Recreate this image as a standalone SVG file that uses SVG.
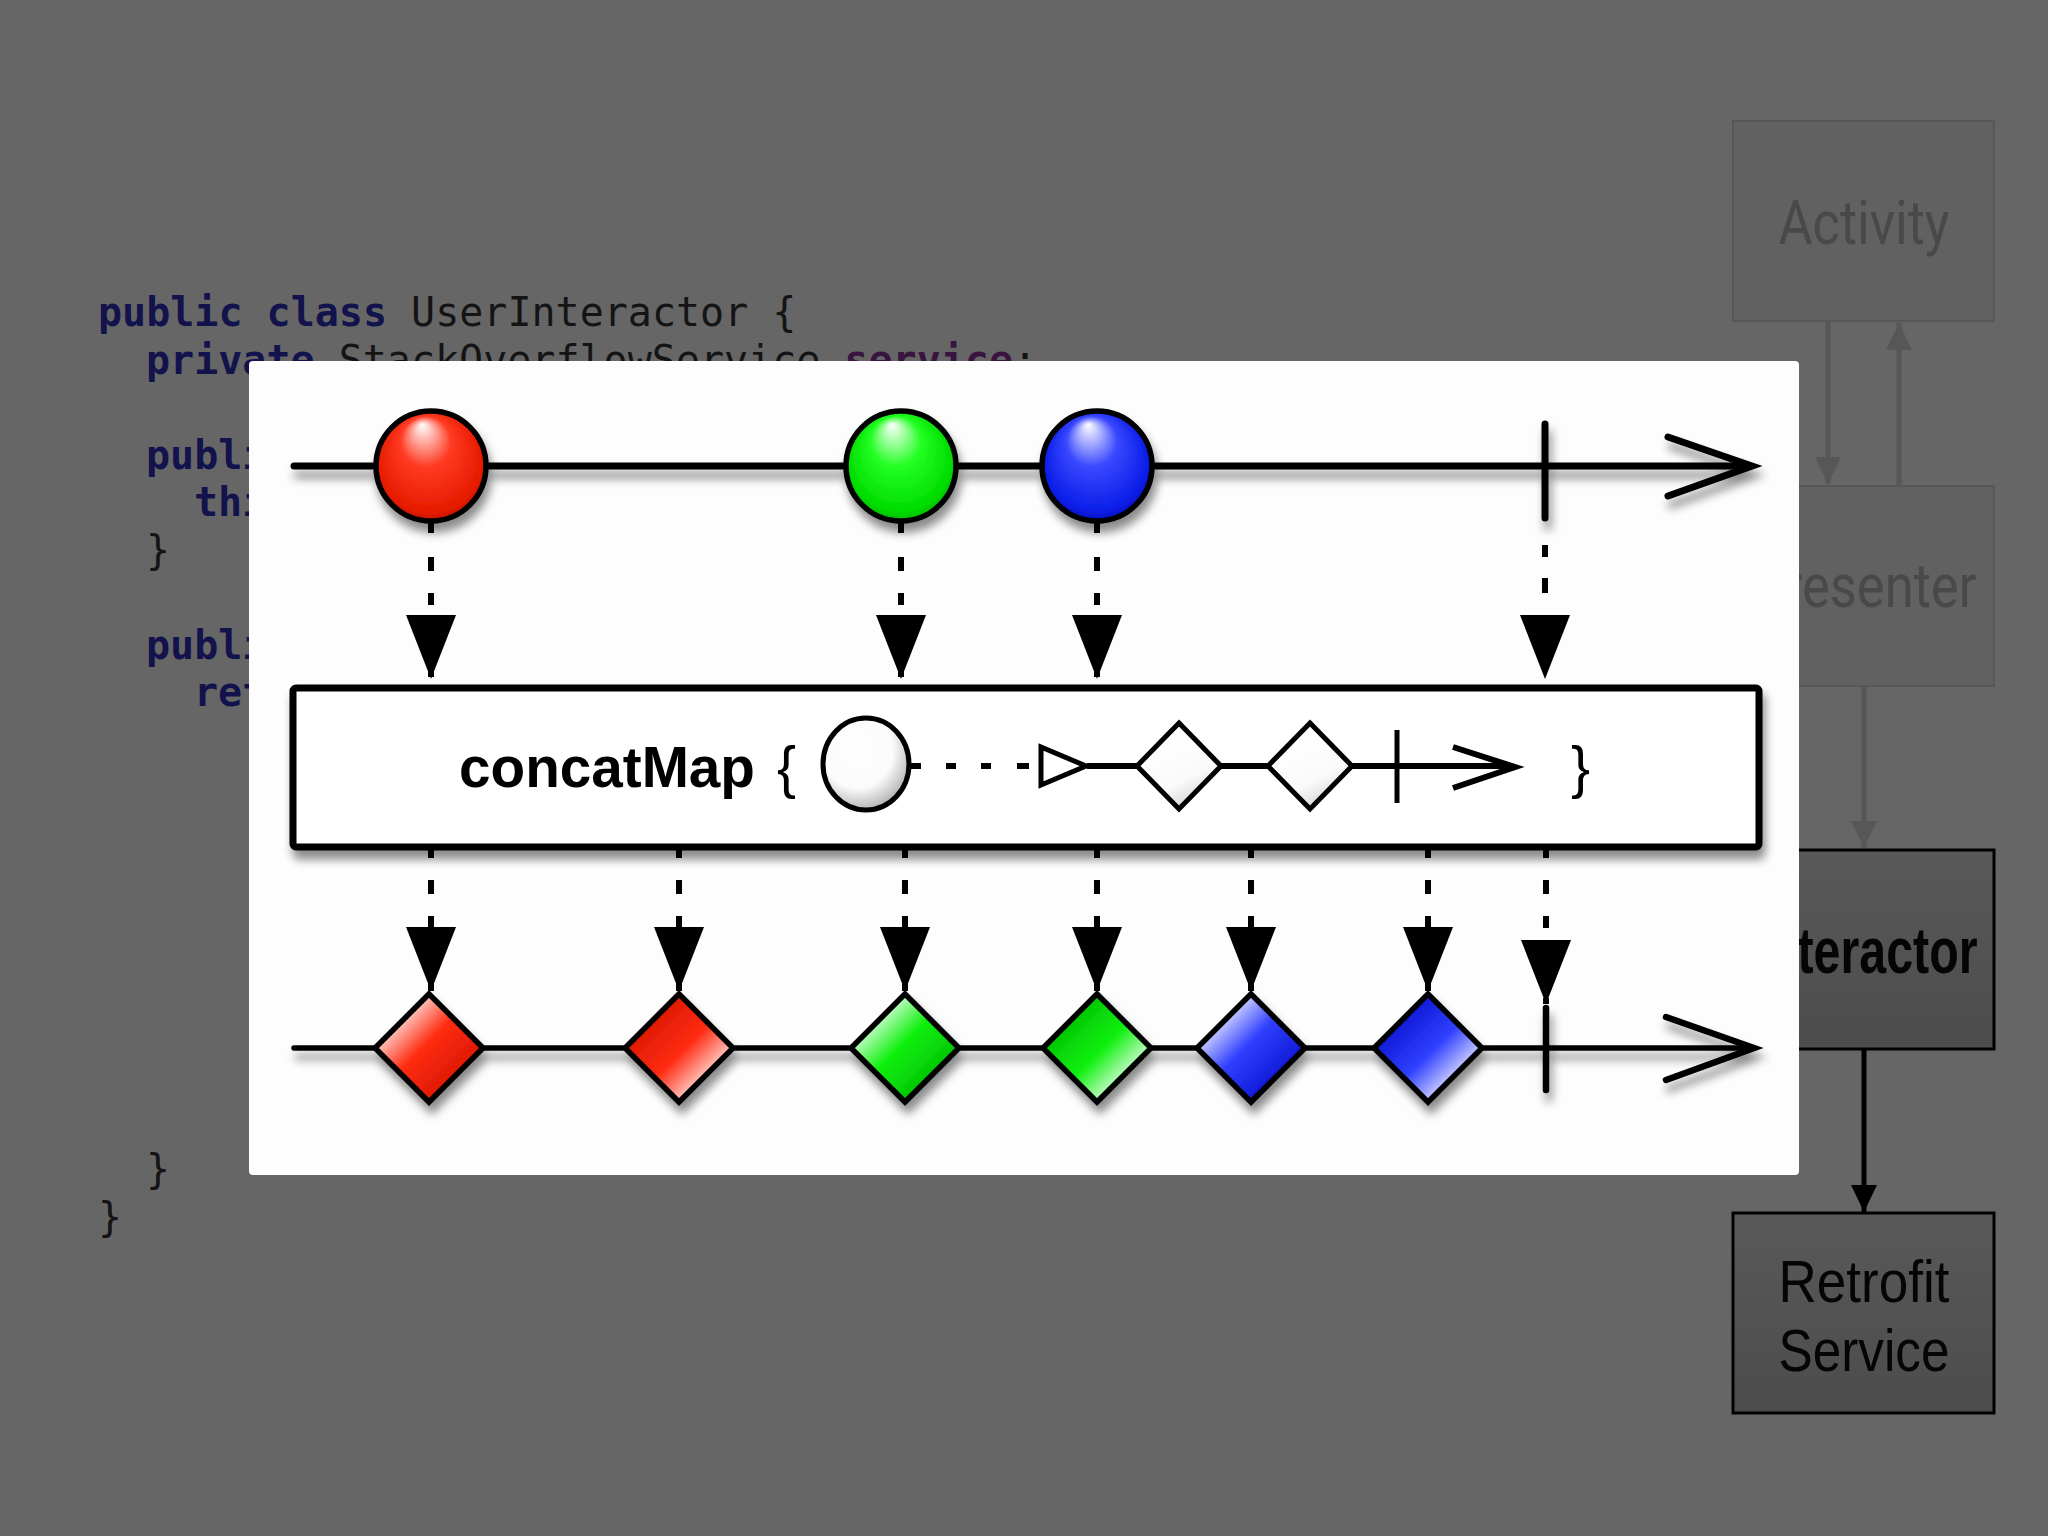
<svg xmlns="http://www.w3.org/2000/svg" width="2048" height="1536" viewBox="0 0 2048 1536">
<defs>
<style>
.code{font-family:"DejaVu Sans Mono","Liberation Mono",monospace;font-size:40px;fill:#141414}
.kw{font-weight:bold;fill:#12124c}
.fld{font-weight:bold;fill:#3a1440}
.boxdim{fill:#616161;stroke:#575757;stroke-width:2}
.dimtxt{font-family:Roboto,"Liberation Sans",sans-serif;font-size:62px;fill:#494949}
.dark{stroke:#000;stroke-width:3}
.darktxt{font-family:"Liberation Sans",Arial,sans-serif;fill:#050505}
.gconn{stroke:#575757;stroke-width:5;fill:none}
.bconn{stroke:#000;stroke-width:5;fill:none}
.tl{stroke:#000;fill:none;stroke-linecap:round}
.mk{stroke:#000;stroke-width:5.5}
.dash{stroke:#000;stroke-width:6;fill:none}
</style>
<marker id="aGray" markerUnits="userSpaceOnUse" orient="auto" overflow="visible" refX="0" refY="0" markerWidth="30" markerHeight="30">
<path d="M0,0 L-27,-13 L-27,13 Z" fill="#575757"/>
</marker>
<marker id="aBlack" markerUnits="userSpaceOnUse" orient="auto" overflow="visible" refX="0" refY="0" markerWidth="30" markerHeight="30">
<path d="M0,0 L-27,-13 L-27,13 Z" fill="#000"/>
</marker>
<marker id="aBig" markerUnits="userSpaceOnUse" orient="auto" overflow="visible" refX="0" refY="0" markerWidth="70" markerHeight="60">
<path d="M0,0 L-64,-25 L-64,25 Z" fill="#000"/>
</marker>
<filter id="sh" x="-10%" y="-20%" width="130%" height="160%">
<feDropShadow dx="3" dy="9" stdDeviation="5" flood-color="#000" flood-opacity="0.45"/>
</filter>
<radialGradient id="gRed" cx="0.5" cy="0.5" r="0.55" fx="0.42" fy="0.12">
<stop offset="0" stop-color="#ffffff"/><stop offset="0.42" stop-color="#ff3a22"/><stop offset="0.85" stop-color="#e81c00"/><stop offset="1" stop-color="#b81200"/>
</radialGradient>
<radialGradient id="gGreen" cx="0.5" cy="0.5" r="0.55" fx="0.42" fy="0.12">
<stop offset="0" stop-color="#ffffff"/><stop offset="0.42" stop-color="#22ff22"/><stop offset="0.85" stop-color="#00dd00"/><stop offset="1" stop-color="#00a800"/>
</radialGradient>
<radialGradient id="gBlue" cx="0.5" cy="0.5" r="0.55" fx="0.42" fy="0.12">
<stop offset="0" stop-color="#ffffff"/><stop offset="0.42" stop-color="#3a48ff"/><stop offset="0.85" stop-color="#0a1ee8"/><stop offset="1" stop-color="#0008a8"/>
</radialGradient>
<radialGradient id="gWhite" cx="0.4" cy="0.35" r="0.75">
<stop offset="0" stop-color="#ffffff"/><stop offset="0.55" stop-color="#fbfbfb"/><stop offset="1" stop-color="#9a9a9a"/>
</radialGradient>
<linearGradient id="dRedA" x1="0.2" y1="0.2" x2="0.8" y2="0.8"><stop offset="0" stop-color="#ffe6e2"/><stop offset="0.45" stop-color="#ff2c12"/><stop offset="1" stop-color="#d81600"/></linearGradient>
<linearGradient id="dRedB" x1="0.8" y1="0.8" x2="0.2" y2="0.2"><stop offset="0" stop-color="#ffe6e2"/><stop offset="0.45" stop-color="#ff2c12"/><stop offset="1" stop-color="#d81600"/></linearGradient>
<linearGradient id="dGreenA" x1="0.2" y1="0.2" x2="0.8" y2="0.8"><stop offset="0" stop-color="#e6ffe6"/><stop offset="0.45" stop-color="#10f010"/><stop offset="1" stop-color="#00c000"/></linearGradient>
<linearGradient id="dGreenB" x1="0.8" y1="0.8" x2="0.2" y2="0.2"><stop offset="0" stop-color="#e6ffe6"/><stop offset="0.45" stop-color="#10f010"/><stop offset="1" stop-color="#00c000"/></linearGradient>
<linearGradient id="dBlueA" x1="0.2" y1="0.2" x2="0.8" y2="0.8"><stop offset="0" stop-color="#e6e8ff"/><stop offset="0.45" stop-color="#3040ff"/><stop offset="1" stop-color="#0814d0"/></linearGradient>
<linearGradient id="dBlueB" x1="0.8" y1="0.8" x2="0.2" y2="0.2"><stop offset="0" stop-color="#e6e8ff"/><stop offset="0.45" stop-color="#3040ff"/><stop offset="1" stop-color="#0814d0"/></linearGradient>
<linearGradient id="dWhite" x1="0.3" y1="0.2" x2="0.7" y2="1"><stop offset="0" stop-color="#ffffff"/><stop offset="0.6" stop-color="#fafafa"/><stop offset="1" stop-color="#cfcfcf"/></linearGradient>
<linearGradient id="gBoxDark" x1="0" y1="0" x2="0" y2="1"><stop offset="0" stop-color="#595959"/><stop offset="1" stop-color="#4c4c4c"/></linearGradient>
</defs>

<rect x="0" y="0" width="2048" height="1536" fill="#666666"/>

<g id="code" class="code">
<text x="98" y="326"><tspan class="kw">public class</tspan> UserInteractor {</text>
<text x="146" y="373.5"><tspan class="kw">private</tspan> StackOverflowService <tspan class="fld">service</tspan>;</text>
<text x="146" y="468.5" class="kw">publi</text>
<text x="194" y="516" class="kw">thi</text>
<text x="146" y="563.5">}</text>
<text x="146" y="658.5" class="kw">publi</text>
<text x="194" y="706" class="kw">ret</text>
<text x="146" y="1183">}</text>
<text x="98" y="1231">}</text>
</g>

<g id="connectors">
<line class="gconn" x1="1828" y1="321" x2="1828" y2="484" marker-end="url(#aGray)"/>
<line class="gconn" x1="1899" y1="486" x2="1899" y2="323" marker-end="url(#aGray)"/>
<line class="gconn" x1="1864" y1="686" x2="1864" y2="848" marker-end="url(#aGray)"/>
<line class="bconn" x1="1864" y1="1049" x2="1864" y2="1212" marker-end="url(#aBlack)"/>
</g>

<g id="node-activity">
<rect class="boxdim" x="1733" y="121" width="261" height="200"/>
<text class="dimtxt" x="1864" y="244" text-anchor="middle" textLength="171" lengthAdjust="spacingAndGlyphs">Activity</text>
</g>
<g id="node-presenter">
<rect class="boxdim" x="1733" y="486" width="261" height="200"/>
<text class="dimtxt" x="1864" y="607" text-anchor="middle" textLength="225" lengthAdjust="spacingAndGlyphs">Presenter</text>
</g>
<g id="node-interactor">
<rect class="dark" x="1733" y="850" width="261" height="199" fill="url(#gBoxDark)"/>
<text class="darktxt" x="1866" y="973" font-size="64" font-weight="bold" text-anchor="middle" textLength="223" lengthAdjust="spacingAndGlyphs">Interactor</text>
</g>
<g id="node-retrofit">
<rect class="dark" x="1733" y="1213" width="261" height="200" fill="url(#gBoxDark)" stroke-width="2.5"/>
<text class="darktxt" x="1864" y="1302" font-size="60" text-anchor="middle" textLength="171" lengthAdjust="spacingAndGlyphs">Retrofit</text>
<text class="darktxt" x="1864" y="1371" font-size="60" text-anchor="middle" textLength="171" lengthAdjust="spacingAndGlyphs">Service</text>
</g>

<g id="marble-diagram">
<rect x="249" y="361" width="1550" height="814" rx="4" fill="#fdfdfd"/>

<g id="source-timeline" filter="url(#sh)">
<line class="tl" x1="294" y1="466" x2="1748" y2="466" stroke-width="7"/>
<polyline class="tl" points="1668,437 1752,466 1668,496" stroke-width="7" stroke-linejoin="miter"/>
<line class="tl" x1="1545" y1="424" x2="1545" y2="518" stroke-width="7"/>
<circle class="mk" cx="431" cy="466" r="55" fill="url(#gRed)"/>
<circle class="mk" cx="901" cy="466" r="55" fill="url(#gGreen)"/>
<circle class="mk" cx="1097" cy="466" r="55" fill="url(#gBlue)"/>
</g>

<g id="top-arrows">
<line class="dash" x1="431" y1="521" x2="431" y2="679" stroke-dasharray="12 24 14 22" marker-end="url(#aBig)"/>
<line class="dash" x1="901" y1="521" x2="901" y2="679" stroke-dasharray="12 24 14 22" marker-end="url(#aBig)"/>
<line class="dash" x1="1097" y1="521" x2="1097" y2="679" stroke-dasharray="12 24 14 22" marker-end="url(#aBig)"/>
<line class="dash" x1="1545" y1="545" x2="1545" y2="679" stroke-dasharray="12 21 15 30" marker-end="url(#aBig)"/>
</g>

<g id="operator" filter="url(#sh)">
<rect x="293" y="688" width="1466" height="159" rx="3" fill="#ffffff" stroke="#000" stroke-width="7"/>
</g>
<g id="operator-label">
<text x="459" y="787" font-family="'Liberation Sans',Arial,sans-serif" font-size="57" fill="#000"><tspan font-weight="bold" textLength="296" lengthAdjust="spacingAndGlyphs">concatMap</tspan></text>
<text x="777" y="787" font-family="'Liberation Sans',Arial,sans-serif" font-size="57" fill="#000">{</text>
<ellipse cx="866" cy="764" rx="43" ry="46" fill="url(#gWhite)" stroke="#000" stroke-width="5"/>
<g stroke="#000" stroke-width="6">
<line x1="909" y1="766" x2="921" y2="766"/>
<line x1="946" y1="766" x2="956" y2="766"/>
<line x1="981" y1="766" x2="991" y2="766"/>
<line x1="1017" y1="766" x2="1029" y2="766"/>
<line x1="1087" y1="766" x2="1140" y2="766"/>
<line x1="1220" y1="766" x2="1270" y2="766"/>
<line x1="1350" y1="766" x2="1510" y2="766"/>
<line x1="1397" y1="730" x2="1397" y2="803" stroke-width="5"/>
</g>
<polygon points="1041,747 1041,785 1086,766" fill="#fff" stroke="#000" stroke-width="5"/>
<polygon points="1179,723 1221,766 1179,809 1137,766" fill="url(#dWhite)" stroke="#000" stroke-width="5"/>
<polygon points="1310,723 1352,766 1310,809 1268,766" fill="url(#dWhite)" stroke="#000" stroke-width="5"/>
<polyline points="1453,747 1515,767 1453,788" fill="none" stroke="#000" stroke-width="6"/>
<text x="1571" y="787" font-family="'Liberation Sans',Arial,sans-serif" font-size="57" fill="#000">}</text>
</g>

<g id="bottom-arrows">
<line class="dash" x1="431" y1="850" x2="431" y2="991" stroke-dasharray="8 22 14 22 14 22" marker-end="url(#aBig)"/>
<line class="dash" x1="679" y1="850" x2="679" y2="991" stroke-dasharray="8 22 14 22 14 22" marker-end="url(#aBig)"/>
<line class="dash" x1="905" y1="850" x2="905" y2="991" stroke-dasharray="8 22 14 22 14 22" marker-end="url(#aBig)"/>
<line class="dash" x1="1097" y1="850" x2="1097" y2="991" stroke-dasharray="8 22 14 22 14 22" marker-end="url(#aBig)"/>
<line class="dash" x1="1251" y1="850" x2="1251" y2="991" stroke-dasharray="8 22 14 22 14 22" marker-end="url(#aBig)"/>
<line class="dash" x1="1428" y1="850" x2="1428" y2="991" stroke-dasharray="8 22 14 22 14 22" marker-end="url(#aBig)"/>
<line class="dash" x1="1546" y1="850" x2="1546" y2="1004" stroke-dasharray="8 22 14 22 12 40" marker-end="url(#aBig)"/>
</g>

<g id="result-timeline" filter="url(#sh)">
<line class="tl" x1="294" y1="1048" x2="1750" y2="1048" stroke-width="5.5"/>
<polyline class="tl" points="1666,1017 1754,1048 1666,1080" stroke-width="6.5" stroke-linejoin="miter"/>
<line class="tl" x1="1546" y1="1008" x2="1546" y2="1090" stroke-width="6.5"/>
<polygon class="mk" points="429,994 483,1048 429,1102 375,1048" fill="url(#dRedA)"/>
<polygon class="mk" points="679,994 733,1048 679,1102 625,1048" fill="url(#dRedB)"/>
<polygon class="mk" points="905,994 959,1048 905,1102 851,1048" fill="url(#dGreenA)"/>
<polygon class="mk" points="1097,994 1151,1048 1097,1102 1043,1048" fill="url(#dGreenB)"/>
<polygon class="mk" points="1251,994 1305,1048 1251,1102 1197,1048" fill="url(#dBlueA)"/>
<polygon class="mk" points="1428,994 1482,1048 1428,1102 1374,1048" fill="url(#dBlueB)"/>
</g>
</g>
</svg>
